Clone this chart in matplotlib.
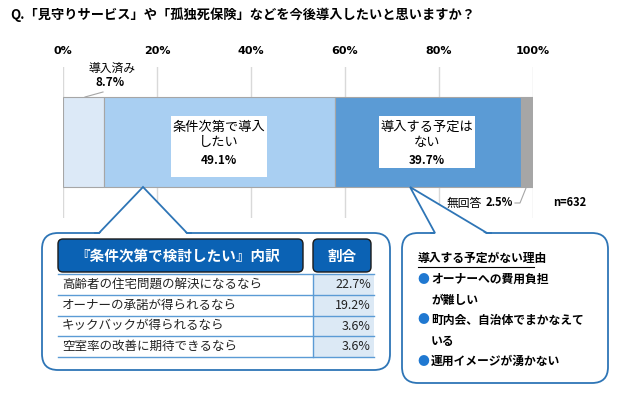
import matplotlib
matplotlib.use('Agg')
import numpy as np
from matplotlib import pyplot as plt
from matplotlib.patches import FancyBboxPatch, Polygon, Rectangle

plt.rcParams['font.family'] = ['Noto Sans CJK JP', 'DejaVu Sans']

# data
title = 'Q.「見守りサービス」や「孤独死保険」などを今後導入したいと思いますか？'
categories = ['導入済み', '条件次第で導入\nしたい', '導入する予定は\nない', '無回答']
shares = [8.7, 49.1, 39.7, 2.5]
sample_size = 632
tick_values = [0, 20, 40, 60, 80, 100]

breakdown_title = '『条件次第で検討したい』内訳'
share_header = '割合'
breakdown_items = ['高齢者の住宅問題の解決になるなら',
                   'オーナーの承諾が得られるなら',
                   'キックバックが得られるなら',
                   '空室率の改善に期待できるなら']
breakdown_shares = [22.7, 19.2, 3.6, 3.6]

reasons_title = '導入する予定がない理由'
reasons = [['オーナーへの費用負担', 'が難しい'],
           ['町内会、自治体でまかなえて', 'いる'],
           ['運用イメージが湧かない']]

seg_colors = ['#dce9f7', '#a9cff2', '#5b9bd5', '#a6a6a6']
callout_edge = '#2e75b6'

W, H = 640, 407
fig = plt.figure(figsize=(W / 100, H / 100), dpi=100)

# main stacked bar axis: x 63..533 px, y 67..218 px
ax = fig.add_axes([63 / W, 1 - 218 / H, 470 / W, 151 / H])
ax.set_xlim(0, 100)
ax.set_ylim(0, 1)
lefts = np.concatenate([[0], np.cumsum(shares)[:-1]])
bar_y, bar_h = 0.503, 0.596
ax.barh([bar_y] * len(shares), shares, left=lefts, height=bar_h,
        color=seg_colors, edgecolor='#a6a6a6', linewidth=0.8, zorder=2)
ax.set_xticks(tick_values)
ax.set_xticklabels([f'{v}%' for v in tick_values], fontsize=8, fontweight='bold',
                   family=['DejaVu Sans'])
ax.xaxis.tick_top()
ax.tick_params(axis='x', length=0, pad=8)
ax.set_yticks([])
ax.grid(axis='x', color='#d9d9d9', linewidth=1, zorder=0)
for s in ax.spines.values():
    s.set_visible(False)

# overlay axis in pixel coordinates for annotations
ov = fig.add_axes([0, 0, 1, 1], zorder=3)
ov.set_xlim(0, W)
ov.set_ylim(H, 0)
ov.axis('off')
ov.patch.set_alpha(0)

ov.text(10, 15, title, fontsize=9.5, fontweight='bold', va='center', ha='left')

# labels inside the two big segments (white boxes)
label_boxes = {1: (171, 116, 96, 61), 2: (379, 116, 96, 52)}
for i, (bx, by, bw, bh) in label_boxes.items():
    ov.add_patch(Rectangle((bx, by), bw, bh, fc='white', ec='none'))
    cx = bx + bw / 2
    ov.text(cx, 135, categories[i], ha='center', va='center', fontsize=9.5,
            linespacing=1.25)
    ov.text(cx, 160, f'{shares[i]}%', ha='center', va='center', fontsize=8.5,
            fontweight='bold')

# small segment label
ov.text(112, 68, categories[0], fontsize=8.5, ha='center', va='center')
ov.text(110, 83, f'{shares[0]}%', fontsize=8.5, fontweight='bold', ha='center', va='center')
ov.plot([85, 103], [97, 92], color='#a6a6a6', lw=0.8)

# no answer label
ov.text(464, 203, categories[3], fontsize=8.5, ha='center', va='center')
ov.text(513, 203, f'{shares[3]}%', fontsize=8, fontweight='bold', ha='right', va='center')
ov.plot([515, 520, 526], [203, 203, 188], color='#a6a6a6', lw=0.8)
ov.text(553, 202, f'n={sample_size}', fontsize=8, fontweight='bold', ha='left', va='center')


def callout(x0, y0, x1, y1, apex, base_l, base_r):
    box = FancyBboxPatch((x0, y0), x1 - x0, y1 - y0,
                         boxstyle='round,pad=0,rounding_size=16',
                         fc='white', ec=callout_edge, lw=1.3)
    ov.add_patch(box)
    ov.add_patch(Polygon([apex, (base_l, y0 + 1.5), (base_r, y0 + 1.5)],
                         closed=True, fc='white', ec='none'))
    ov.plot([base_l - 4, base_l, apex[0], base_r, base_r + 4],
            [y0, y0, apex[1], y0, y0], color=callout_edge, lw=1.3,
            solid_joinstyle='miter')


# breakdown callout
callout(42, 233, 390, 370, (143, 187), 99, 187)
ov.add_patch(FancyBboxPatch((58, 239), 245, 33, boxstyle='round,pad=0,rounding_size=5',
                            fc='#0b62b4', ec='#1a1a1a', lw=1))
ov.add_patch(FancyBboxPatch((313, 239), 58, 33, boxstyle='round,pad=0,rounding_size=5',
                            fc='#0b62b4', ec='#1a1a1a', lw=1))
ov.text(178, 256, breakdown_title, color='white', fontsize=10.5, fontweight='bold',
        ha='center', va='center')
ov.text(342, 256, share_header, color='white', fontsize=10.5, fontweight='bold',
        ha='center', va='center')

row_top, row_h = 274, 20.8
ov.add_patch(Rectangle((313, row_top), 61, row_h * len(breakdown_items),
                       fc='#dce9f5', ec='none'))
ov.plot([313, 313], [row_top, row_top + row_h * len(breakdown_items)],
        color='#5b9bd5', lw=1)
for k in range(len(breakdown_items) + 1):
    yy = row_top + k * row_h
    ov.plot([58, 374], [yy, yy], color='#5b9bd5', lw=1)
for k, (item, val) in enumerate(zip(breakdown_items, breakdown_shares)):
    yc = row_top + (k + 0.5) * row_h
    ov.text(62, yc, item, fontsize=9, color='#222222', ha='left', va='center')
    ov.text(371, yc, f'{val}%', fontsize=9, color='#222222', ha='right', va='center')

# reasons callout
callout(402, 233, 608, 383, (410, 187), 435, 487)
ov.text(418, 258, reasons_title, fontsize=8.5, fontweight='bold', ha='left', va='center')
ov.plot([418, 534], [267, 267], color='black', lw=0.8)
line_y = [279, 300, 320, 341, 361]
li = 0
for reason in reasons:
    for j, part in enumerate(reason):
        if j == 0:
            ov.text(417, line_y[li], '●', color='#1f78d1', fontsize=8.5,
                    ha='left', va='center')
        ov.text(431, line_y[li], part, fontsize=8.5, fontweight='bold',
                ha='left', va='center')
        li += 1

fig.savefig('out.png', dpi=100)
